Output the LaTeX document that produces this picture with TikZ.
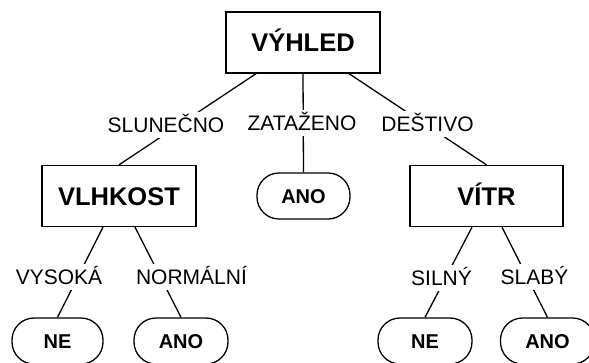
\documentclass[tikz,border=0pt]{standalone}
\usepackage{fontspec}
\setmainfont{Liberation Sans}
\usetikzlibrary{calc}
\begin{document}
\begin{tikzpicture}[x=1pt,y=-1pt,
  box/.style={draw, line width=1.3pt, minimum width=154pt, minimum height=61pt, inner sep=0pt,
    font=\fontsize{25.5}{30}\selectfont\bfseries, text height=18.3pt, text depth=0pt},
  leaf/.style={draw, line width=1.3pt, rounded corners=22pt, minimum width=93pt, minimum height=46pt, inner sep=0pt,
    font=\fontsize{20}{24}\selectfont\bfseries, text height=14.3pt, text depth=0pt},
  lbl/.style={fill=white, inner xsep=2pt, inner ysep=5.5pt,
    font=\fontsize{21}{25}\selectfont, text height=15pt, text depth=0pt},
  conn/.style={line width=1.3pt}]
\useasboundingbox (0,0) rectangle (589,362);
% decision nodes
\node[box] (root) at (303,42.5) {VÝHLED};
\node[box] (hum) at (119,196) {VLHKOST};
\node[box, minimum width=153pt] (wind) at (486.5,196) {VÍTR};
% leaves
\node[leaf] (mid) at (303.5,196) {ANO};
\node[leaf, minimum width=91pt] (ne1) at (57.5,341) {NE};
\node[leaf, minimum width=94pt] (ano1) at (181,341) {ANO};
\node[leaf, minimum width=94pt] (ne2) at (425,341) {NE};
\node[leaf, minimum width=94pt] (ano2) at (547.5,341) {ANO};
% connectors
\draw[conn] ([xshift=-47pt]root.south) -- (hum.north);
\draw[conn] (root.south) -- (mid.north);
\draw[conn] ([xshift=46pt]root.south) -- (wind.north);
\draw[conn] ([xshift=-16pt]hum.south) -- (ne1.north);
\draw[conn] ([xshift=16pt]hum.south) -- (ano1.north);
\draw[conn] ([xshift=-14.5pt]wind.south) -- (ne2.north);
\draw[conn] ([xshift=15.5pt]wind.south) -- (ano2.north);
% labels
\node[lbl] (l1) at (166,124.5) {SLUNEČNO};
\node[lbl] (l2) at (302,123) {ZATAŽENO};
\node[lbl] (l3) at (427.5,124) {DEŠTIVO};
\node[lbl] (l4) at (59,277) {VYSOKÁ};
\node[lbl] (l5) at (191.5,277) {NORMÁLNÍ};
\node[lbl] (l6) at (441.5,278) {SILNÝ};
\node[lbl] (l7) at (534.5,277) {SLABÝ};
\end{tikzpicture}
\end{document}
